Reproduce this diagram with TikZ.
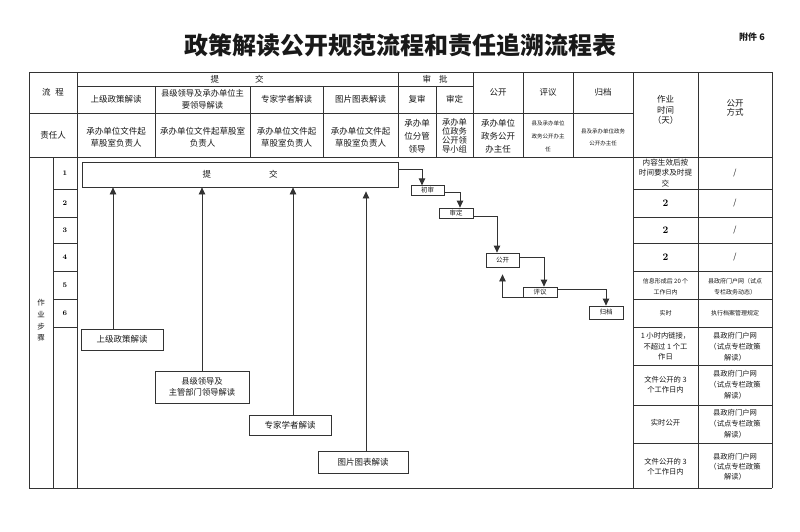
\documentclass[tikz,border=0pt]{standalone}
\usepackage{fontspec}
\newfontfamily\cjk{Noto Sans CJK SC}
\usetikzlibrary{arrows.meta}
\begin{document}
\begin{tikzpicture}[x=1pt,y=-1pt,
  tl/.style={line width=0.8pt, draw=black!80},
  tx/.style n args={2}{font=\cjk\fontsize{#1}{#2}\selectfont, align=center, inner sep=0pt, text=black!90},
  fbox/.style={draw=black!80, line width=0.8pt, fill=white, inner sep=0pt},
  arr/.style={line width=0.8pt, draw=black!80, -{Triangle[length=7pt,width=6.5pt]}}]
\useasboundingbox (0,0) rectangle (800,531);
\fill[white] (0,0) rectangle (800,531);

% title
\node[tx={24}{26}, font=\cjk\bfseries\fontsize{24}{26}\selectfont] (title) at (400,45) {政策解读公开规范流程和责任追溯流程表};
\node[tx={9}{10}, font=\cjk\bfseries\fontsize{9}{10}\selectfont] (att) at (752,37) {附件 6};

% table lines
\draw[tl] (29,72) -- (772,72);
\draw[tl] (77,86) -- (473,86);
\draw[tl] (29,113) -- (633,113);
\draw[tl] (29,157) -- (772,157);
\draw[tl] (29,488) -- (772,488);
\foreach \y in {189,217,243,271,299,327} \draw[tl] (53,\y) -- (77,\y);
\foreach \y in {189,217,243,271,299,327,365,405,443} \draw[tl] (633,\y) -- (772,\y);
\foreach \x in {29,77,633,698,772} \draw[tl] (\x,72) -- (\x,488);
\draw[tl] (53,157) -- (53,488);
\foreach \x in {155,250,323,436} \draw[tl] (\x,86) -- (\x,157);
\foreach \x in {398,473,523,573} \draw[tl] (\x,72) -- (\x,157);

% header texts
\node[tx={8.5}{10}] (h1) at (237,79) {提\hspace{36pt}交};
\node[tx={8.5}{10}] (h2) at (435,79) {审\hspace{8pt}批};
\node[tx={8.5}{10}] (h3) at (53,92.5) {流\hspace{5pt}程};
\node[tx={8.5}{10}] (h4) at (116,99.5) {上级政策解读};
\node[tx={8.3}{11.5}] (h5) at (202.5,99.5) {县级领导及承办单位主\\要领导解读};
\node[tx={8.5}{10}] (h6) at (286.5,99.5) {专家学者解读};
\node[tx={8.5}{10}] (h7) at (360.5,99.5) {图片图表解读};
\node[tx={8.5}{10}] (h8) at (417,99.5) {复审};
\node[tx={8.5}{10}] (h9) at (454.5,99.5) {审定};
\node[tx={8.5}{10}] (h10) at (498,92.5) {公开};
\node[tx={8.5}{10}] (h11) at (548,92.5) {评议};
\node[tx={8.5}{10}] (h12) at (603,92.5) {归档};
\node[tx={8.5}{10.5}] (h13) at (665.5,110) {作业\\时间\\（天）};
\node[tx={8.5}{9.5}] (h14) at (735,108) {公开\\方式};

% responsible row
\node[tx={8.5}{10}] (r0) at (53,135) {责任人};
\node[tx={8.5}{12.5}] (r1) at (116,137) {承办单位文件起\\草股室负责人};
\node[tx={8.5}{12.5}] (r2) at (202.5,137) {承办单位文件起草股室\\负责人};
\node[tx={8.5}{12.5}] (r3) at (286.5,137) {承办单位文件起\\草股室负责人};
\node[tx={8.5}{12.5}] (r4) at (360.5,137) {承办单位文件起\\草股室负责人};
\node[tx={8.5}{13}] (r5) at (417,136) {承办单\\位分管\\领导};
\node[tx={8.3}{8.8}] (r6) at (454.5,136) {承办单\\位政务\\公开领\\导小组};
\node[tx={8.5}{13}] (r7) at (498,136) {承办单位\\政务公开\\办主任};
\node[tx={5.5}{13}] (r8) at (548,136) {县及承办单位\\政务公开办主\\任};
\node[tx={5.5}{12}] (r9) at (603,137) {县及承办单位政务\\公开办主任};

% step column
\node[tx={7.5}{11.7}] (zy) at (41,320.5) {作\\业\\步\\骤};
\foreach \n/\y in {1/173,2/203,3/230,4/257,5/285,6/313}
  \node[font=\bfseries\fontsize{7}{8}\selectfont, inner sep=0pt] (n\n) at (65,\y) {\n};

% right cells
\node[tx={7.6}{10.5}] (t1) at (665.5,173) {内容生效后按\\时间要求及时提\\交};
\node[tx={8}{10}] (m1) at (735,173) {/};
\foreach \i/\y in {2/203,3/230,4/257} {
  \node[font=\bfseries\fontsize{10}{11}\selectfont, inner sep=0pt] (t\i) at (665.5,\y) {2};
  \node[tx={8}{10}] (m\i) at (735,\y) {/};
}
\node[tx={6}{11}] (t5) at (665.5,286.5) {信息形成后 20 个\\工作日内};
\node[tx={6}{11}] (m5) at (735,286.5) {县政府门户网（试点\\专栏政务动态）};
\node[tx={6}{11}] (t6) at (665.5,313) {实时};
\node[tx={6}{11}] (m6) at (735,313) {执行档案管理规定};
\node[tx={7.3}{10.5}] (t7) at (665.5,346.5) {1 小时内链接，\\不超过 1 个工\\作日};
\node[tx={7.3}{11}] (m7) at (735,347) {县政府门户网\\（试点专栏政策\\解读）};
\node[tx={7.3}{9.5}] (t8) at (665.5,384.5) {文件公开的 3\\个工作日内};
\node[tx={7.3}{11}] (m8) at (735,385) {县政府门户网\\（试点专栏政策\\解读）};
\node[tx={7.3}{10}] (t9) at (665.5,423) {实时公开};
\node[tx={7.3}{11}] (m9) at (735,424) {县政府门户网\\（试点专栏政策\\解读）};
\node[tx={7.3}{10}] (t10) at (665.5,467) {文件公开的 3\\个工作日内};
\node[tx={7.3}{10}] (m10) at (735,467) {县政府门户网\\（试点专栏政策\\解读）};

% flow boxes
\node[fbox, tx={8.5}{10}, minimum width=316pt, minimum height=25pt] (tj) at (240,174.5) {提\hspace{58pt}交};
\node[fbox, tx={8.5}{10}, minimum width=82pt, minimum height=21pt] (b1) at (122,339.5) {上级政策解读};
\node[fbox, tx={8.3}{11}, minimum width=94pt, minimum height=32pt] (b2) at (202,387) {县级领导及\\主管部门领导解读};
\node[fbox, tx={8.5}{10}, minimum width=82pt, minimum height=20pt] (b3) at (290,425) {专家学者解读};
\node[fbox, tx={8.5}{10}, minimum width=90pt, minimum height=22pt] (b4) at (363,462) {图片图表解读};
\node[fbox, tx={6.5}{7}, minimum width=33pt, minimum height=9.5pt] (cs) at (427.5,190.5) {初审};
\node[fbox, tx={6.5}{7}, minimum width=34pt, minimum height=10pt] (sd) at (456,213) {审定};
\node[fbox, tx={6.5}{7}, minimum width=33pt, minimum height=14pt] (gk) at (502.5,260) {公开};
\node[fbox, tx={6.5}{7}, minimum width=34pt, minimum height=10pt] (py) at (540,292) {评议};
\node[fbox, tx={6.5}{7}, minimum width=34pt, minimum height=13pt] (gd) at (606,312.5) {归档};

% arrows up
\draw[arr] ([xshift=-9pt]b1.north) -- ([xshift=-9pt]b1.north |- tj.south);
\draw[arr] (b2.north) -- (b2.north |- tj.south);
\draw[arr] ([xshift=3pt]b3.north) -- ([xshift=3pt]b3.north |- tj.south);
\draw[arr, shorten >=4pt] ([xshift=3pt]b4.north) -- ([xshift=3pt]b4.north |- tj.south);

% right flow
\draw[arr] ([yshift=5.5pt]tj.east) -| ([xshift=-5.5pt]cs.north);
\draw[arr] ([yshift=-1.5pt]cs.east) -| ([xshift=4pt]sd.north);
\draw[arr] ([yshift=-3pt]sd.east) -| ([xshift=-5.5pt]gk.north);
\draw[arr] ([yshift=3pt]gk.east) -| ([xshift=4pt]py.north);
\draw[arr, shorten >=7pt] (py.south west) -| (gk.south);
\draw[arr] ([yshift=3pt]py.east) -| (gd.north);
\end{tikzpicture}
\end{document}
